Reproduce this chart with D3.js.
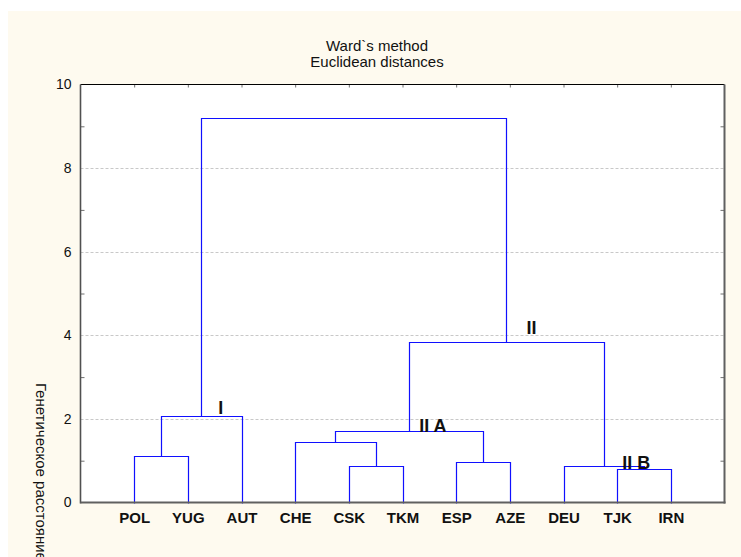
<!DOCTYPE html>
<html>
<head>
<meta charset="utf-8">
<script src="https://cdn.jsdelivr.net/npm/d3@7/dist/d3.min.js"></script>
<style>
  html, body { margin: 0; padding: 0; background: #ffffff; }
  svg { display: block; }
</style>
</head>
<body>
<svg id="chart" width="741" height="557"></svg>
<script>
// ---------------- data ----------------
const titleLines = ["Ward`s method", "Euclidean distances"];
const yAxisTitle = "Генетическое расстояние";
const leaves = ["POL", "YUG", "AUT", "CHE", "CSK", "TKM", "ESP", "AZE", "DEU", "TJK", "IRN"];
const yTickLabels = [0, 2, 4, 6, 8, 10];
const yMinorTicks = [1, 3, 5, 7, 9];
// linkage: [nodeId, leftChild, rightChild, height]
const linkage = [
  ["m1", "POL", "YUG", 1.11],
  ["I",  "m1",  "AUT", 2.07],
  ["m2", "CSK", "TKM", 0.88],
  ["m3", "CHE", "m2",  1.45],
  ["m4", "ESP", "AZE", 0.97],
  ["IIA", "m3", "m4",  1.71],
  ["m5", "TJK", "IRN", 0.79],
  ["IIB", "DEU", "m5", 0.87],
  ["II", "IIA", "IIB", 3.85],
  ["root", "I", "II",  9.20]
];
const clusterNodes = ["I", "IIA", "II", "IIB"];
const clusterNames = ["I", "II A", "II", "II B"];

// ---------------- layout / style ----------------
const W = 741, H = 557;
const plot = { left: 80.5, right: 724.5, top: 84.5, bottom: 502.5 };
const font = "Arial, 'Liberation Sans', sans-serif";
const labelOffsets = { "I": [17, -2], "IIA": [10, 0.5], "II": [20, -7.5], "IIB": [18.5, 3] };

const svg = d3.select("#chart");

// background
svg.append("rect").attr("x", 0).attr("y", 0).attr("width", W).attr("height", H).attr("fill", "#ffffff");
svg.append("rect").attr("x", 8).attr("y", 11).attr("width", W - 8).attr("height", H - 11).attr("fill", "#fefaef");
svg.append("rect").attr("x", plot.left).attr("y", plot.top)
  .attr("width", plot.right - plot.left).attr("height", plot.bottom - plot.top).attr("fill", "#ffffff");

const x = d3.scaleLinear().domain([0, leaves.length + 1]).range([plot.left, plot.right]);
const y = d3.scaleLinear().domain([0, 10]).range([plot.bottom, plot.top]);

// title
svg.append("g").selectAll("text").data(titleLines).join("text")
  .attr("x", 377).attr("y", (d, i) => 51 + i * 15.5)
  .attr("text-anchor", "middle")
  .attr("font-family", font).attr("font-size", 15).attr("fill", "#111")
  .text(d => d);

// gridlines
svg.append("g").selectAll("line").data(yTickLabels.filter(v => v > 0 && v < 10)).join("line")
  .attr("x1", plot.left).attr("x2", plot.right)
  .attr("y1", d => Math.round(y(d)) + 0.5).attr("y2", d => Math.round(y(d)) + 0.5)
  .attr("stroke", "#c8c8c8").attr("stroke-width", 1).attr("stroke-dasharray", "3,2");

// y tick labels
const yAxis = d3.axisLeft(y).tickValues(yTickLabels).tickSize(0).tickPadding(9).tickFormat(d3.format("d"));
const gy = svg.append("g").attr("transform", `translate(${plot.left},0)`).call(yAxis);
gy.select(".domain").remove();
gy.selectAll("text").attr("font-family", font).attr("font-size", 14).attr("fill", "#111");

// minor ticks left (inward)
const gyl = svg.append("g").attr("transform", `translate(${plot.left},0)`)
  .call(d3.axisRight(y).tickValues(yMinorTicks).tickSize(4).tickFormat(""));
gyl.select(".domain").remove();
gyl.selectAll("line").attr("stroke", "#707070");
// minor ticks right (inward)
const gyr = svg.append("g").attr("transform", `translate(${plot.right},0)`)
  .call(d3.axisLeft(y).tickValues(yMinorTicks).tickSize(4).tickFormat(""));
gyr.select(".domain").remove();
gyr.selectAll("line").attr("stroke", "#707070");

// top ticks at leaf positions (inward)
const leafIndex = new Map(leaves.map((d, i) => [d, i + 1]));
const gt = svg.append("g").attr("transform", `translate(0,${plot.top})`)
  .call(d3.axisBottom(x).tickValues(leaves.map((d, i) => i + 1)).tickSize(3).tickFormat(""));
gt.select(".domain").remove();
gt.selectAll("line").attr("stroke", "#707070");

// leaf labels
const gx = svg.append("g").attr("transform", `translate(0,${plot.bottom})`)
  .call(d3.axisBottom(x).tickValues(leaves.map((d, i) => i + 1)).tickSize(0).tickPadding(10)
    .tickFormat(i => leaves[i - 1]));
gx.select(".domain").remove();
gx.selectAll("text").attr("font-family", font).attr("font-size", 15).attr("font-weight", "bold").attr("fill", "#111");

// dendrogram
const nodePos = new Map();
leaves.forEach(l => nodePos.set(l, { x: x(leafIndex.get(l)), h: 0 }));
const links = [];
linkage.forEach(([id, a, b, h]) => {
  const pa = nodePos.get(a), pb = nodePos.get(b);
  nodePos.set(id, { x: (pa.x + pb.x) / 2, h: h });
  links.push({ a: pa, b: pb, h: h });
});
svg.append("g").selectAll("path").data(links).join("path")
  .attr("d", d => {
    const yl = Math.round(y(d.a.h)) + 0.5, yr = Math.round(y(d.b.h)) + 0.5, ym = Math.round(y(d.h)) + 0.5;
    const xl = Math.round(d.a.x) + 0.5, xr = Math.round(d.b.x) + 0.5;
    return `M${xl},${yl}V${ym}H${xr}V${yr}`;
  })
  .attr("fill", "none").attr("stroke", "#1010ff").attr("stroke-width", 1.2);

// frame
svg.append("line").attr("x1", plot.left).attr("x2", plot.right).attr("y1", plot.top).attr("y2", plot.top)
  .attr("stroke", "#000").attr("stroke-width", 1);
svg.append("line").attr("x1", plot.right).attr("x2", plot.right).attr("y1", plot.top).attr("y2", plot.bottom + 1)
  .attr("stroke", "#606060").attr("stroke-width", 2);
svg.append("line").attr("x1", plot.left).attr("x2", plot.left).attr("y1", plot.top).attr("y2", plot.bottom + 1)
  .attr("stroke", "#505050").attr("stroke-width", 1.6);
svg.append("line").attr("x1", plot.left).attr("x2", plot.right + 1).attr("y1", plot.bottom).attr("y2", plot.bottom)
  .attr("stroke", "#606060").attr("stroke-width", 2);

// cluster labels
svg.append("g").selectAll("text").data(clusterNodes).join("text")
  .attr("x", (d) => nodePos.get(d).x + labelOffsets[d][0])
  .attr("y", (d) => y(nodePos.get(d).h) + labelOffsets[d][1])
  .attr("font-family", font).attr("font-size", 18).attr("font-weight", "bold").attr("fill", "#111")
  .text((d, i) => clusterNames[i]);

// y axis title (rotated, reading top to bottom; runs past the bottom edge as in the reference)
svg.append("text")
  .attr("transform", "translate(36,383) rotate(90)")
  .attr("font-family", font).attr("font-size", 15).attr("fill", "#111")
  .text(yAxisTitle);
</script>
</body>
</html>
